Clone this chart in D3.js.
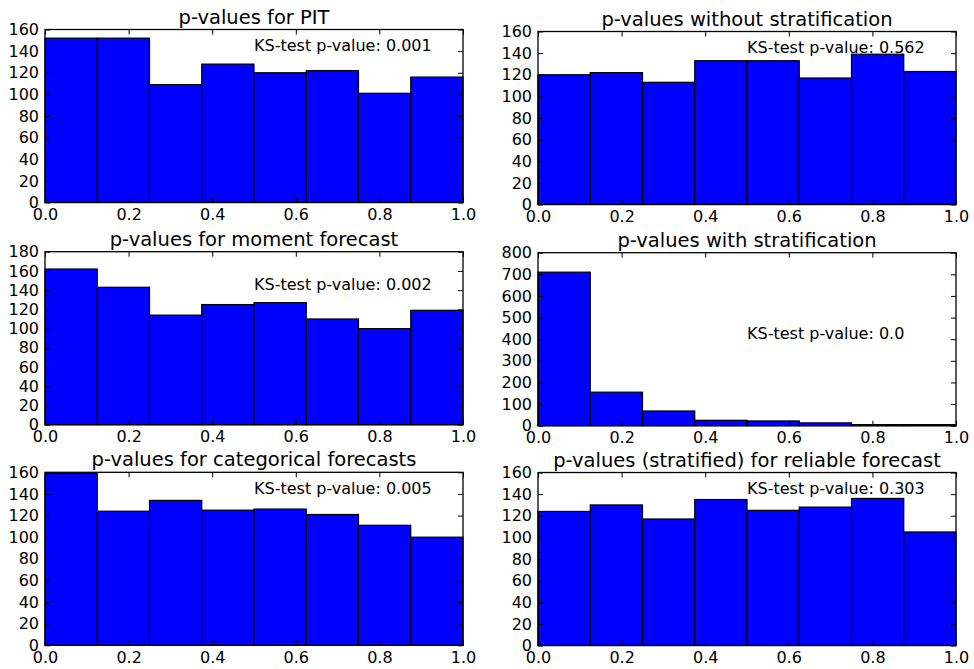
<!DOCTYPE html>
<html>
<head>
<meta charset="utf-8">
<script src="https://cdn.jsdelivr.net/npm/d3@7"></script>
<style>
  body { margin: 0; background: #fff; }
  svg { display: block; font-family: "DejaVu Sans", sans-serif; }
  .tick text { font-family: "DejaVu Sans", sans-serif; font-size: 16px; fill: #000; }
  .domain { display: none; }
  .tick line { stroke: #000; stroke-width: 1; }
</style>
</head>
<body>
<svg id="chart" width="974" height="669"></svg>
<script>
// Histogram data: 8 bins on [0, 1] for each panel
const binEdges = [0, 0.125, 0.25, 0.375, 0.5, 0.625, 0.75, 0.875, 1.0];
const xTicks = [0, 0.2, 0.4, 0.6, 0.8, 1.0];

const titles = [
  "p-values for PIT",
  "p-values without stratification",
  "p-values for moment forecast",
  "p-values with stratification",
  "p-values for categorical forecasts",
  "p-values (stratified) for reliable forecast"
];

const pitCounts         = [152, 152, 109, 128, 120, 122, 101, 116];
const noStratCounts     = [120, 122, 113, 133, 133, 117, 139, 123];
const momentCounts      = [162, 143, 114, 125, 127, 110, 100, 119];
const stratCounts       = [710, 155, 68, 25, 22, 13, 5, 5];
const categoricalCounts = [159, 124, 134, 125, 126, 121, 111, 100];
const reliableCounts    = [124, 130, 117, 135, 125, 128, 136, 105];

const counts = [pitCounts, noStratCounts, momentCounts, stratCounts, categoricalCounts, reliableCounts];

const yMaxes = [160, 160, 180, 800, 160, 160];
const yStep  = [20, 20, 20, 100, 20, 20];

const ksLabels = ["0.001", "0.562", "0.002", "0.0", "0.005", "0.303"];
const ksY      = [140, 140, 140, 400, 140, 140];

// Layout
const colLeft = [45, 538];
const panelW = 418;
const panelH = 173;
const rowTop = [[29.5, 251.7, 472.3], [31.5, 252.7, 472.5]];

const svg = d3.select("#chart");

counts.forEach((vals, i) => {
  const col = i % 2;
  const row = Math.floor(i / 2);
  const left = colLeft[col];
  const top = rowTop[col][row];

  const g = svg.append("g")
      .attr("transform", `translate(${left},${top})`);

  const x = d3.scaleLinear().domain([0, 1]).range([0, panelW]);
  const y = d3.scaleLinear().domain([0, yMaxes[i]]).range([panelH, 0]);

  const bins = vals.map((v, k) => ({ x0: binEdges[k], x1: binEdges[k + 1], v: v }));

  // Bars
  g.selectAll(".bar")
    .data(bins)
    .enter()
    .append("rect")
      .attr("class", "bar")
      .attr("x", d => x(d.x0))
      .attr("y", d => y(d.v))
      .attr("width", d => x(d.x1) - x(d.x0))
      .attr("height", d => y(0) - y(d.v))
      .attr("fill", "#0000ff")
      .attr("stroke", "#000")
      .attr("stroke-width", 1.2);

  const yTicks = d3.range(0, yMaxes[i] + 1, yStep[i]);

  // Axes with inward ticks
  g.append("g")
      .attr("transform", `translate(0,${panelH})`)
      .call(d3.axisBottom(x).tickValues(xTicks).tickFormat(d3.format(".1f"))
        .tickSizeInner(-5).tickSizeOuter(0).tickPadding(6));

  g.append("g")
      .call(d3.axisLeft(y).tickValues(yTicks).tickFormat(d3.format("d"))
        .tickSizeInner(-5).tickSizeOuter(0).tickPadding(6));

  g.append("g")
      .call(d3.axisTop(x).tickValues(xTicks).tickFormat("")
        .tickSizeInner(-5).tickSizeOuter(0));

  g.append("g")
      .attr("transform", `translate(${panelW},0)`)
      .call(d3.axisRight(y).tickValues(yTicks).tickFormat("")
        .tickSizeInner(-5).tickSizeOuter(0));

  // Frame
  g.append("rect")
      .attr("width", panelW)
      .attr("height", panelH)
      .attr("fill", "none")
      .attr("stroke", "#000")
      .attr("stroke-width", 1.3);

  // Title
  g.append("text")
      .attr("x", panelW / 2)
      .attr("y", -6)
      .attr("text-anchor", "middle")
      .style("font-size", "19.5px")
      .text(titles[i]);

  // KS-test annotation
  g.append("text")
      .attr("x", x(0.5))
      .attr("y", y(ksY[i]))
      .style("font-size", "16px")
      .text("KS-test p-value: " + ksLabels[i]);
});
</script>
</body>
</html>
